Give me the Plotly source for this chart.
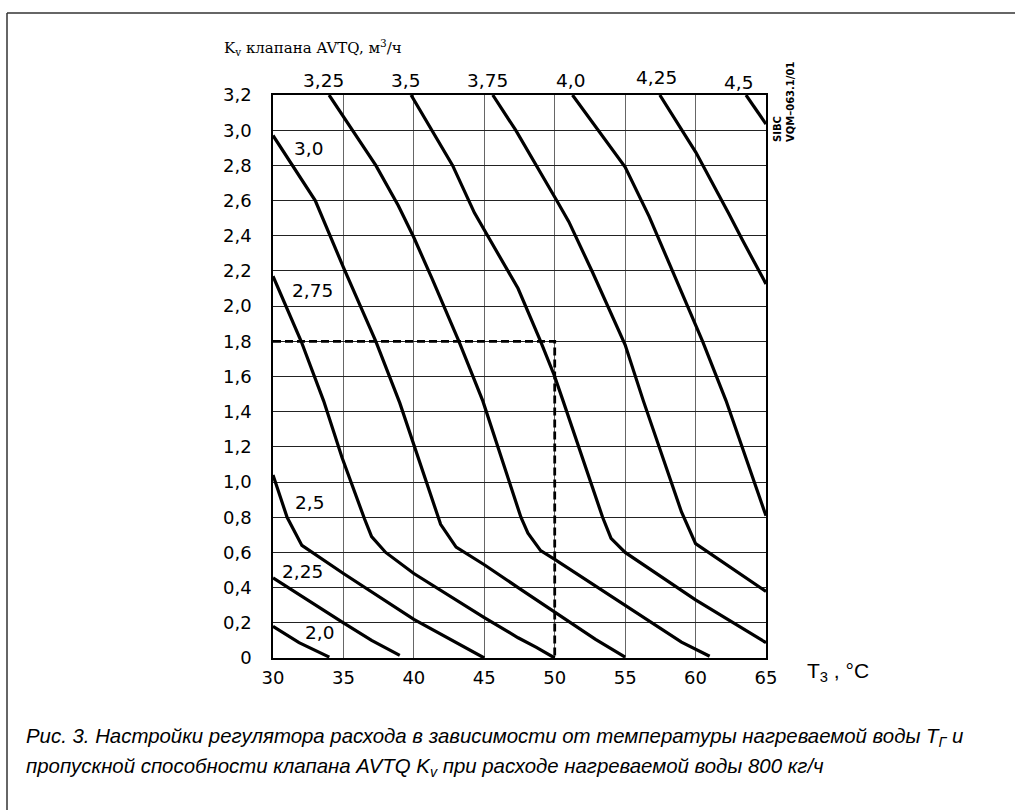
import plotly.graph_objects as go

# ---------------- data ----------------
curve_names = ["2,0", "2,25", "2,5", "2,75", "3,0", "3,25", "3,5", "3,75", "4,0", "4,25", "4,5"]

t_20 = [30, 31.85, 34]
kv_20 = [0.18, 0.087, 0.005]

t_225 = [30, 32.5, 35, 37, 39]
kv_225 = [0.455, 0.325, 0.20, 0.10, 0.015]

t_25 = [30, 31, 32.05, 35, 40, 42.5, 44, 45]
kv_25 = [1.04, 0.80, 0.64, 0.48, 0.22, 0.11, 0.04, 0.0]

t_275 = [30, 32, 33.6, 34.9, 36.5, 37, 38, 40, 45, 47.4, 48.7, 50]
kv_275 = [2.17, 1.80, 1.46, 1.14, 0.79, 0.69, 0.60, 0.48, 0.23, 0.115, 0.06, 0.0]

t_30 = [30, 33, 35, 37.3, 39, 40, 41.9, 43, 45, 47.4, 50, 52.9, 55]
kv_30 = [2.97, 2.60, 2.22, 1.80, 1.45, 1.21, 0.76, 0.63, 0.53, 0.40, 0.26, 0.106, 0.005]

t_325 = [33.98, 37.3, 38.9, 40, 41.3, 43.2, 44.9, 47.6, 48.1, 49, 50, 55, 59, 61]
kv_325 = [3.2, 2.80, 2.57, 2.39, 2.155, 1.80, 1.46, 0.80, 0.71, 0.61, 0.56, 0.30, 0.09, 0.01]

t_35 = [39.8, 42.75, 44.3, 47.4, 49, 50, 50.6, 53.4, 54, 55, 60, 65]
kv_35 = [3.2, 2.80, 2.53, 2.10, 1.80, 1.60, 1.46, 0.80, 0.68, 0.60, 0.33, 0.087]

t_375 = [45.6, 47.23, 50.07, 51.0, 52.7, 55, 56.3, 59, 60, 65]
kv_375 = [3.2, 3.0, 2.61, 2.48, 2.19, 1.78, 1.46, 0.83, 0.65, 0.378]

t_40 = [51.26, 55, 56.7, 60.5, 62.16, 65]
kv_40 = [3.2, 2.79, 2.51, 1.80, 1.463, 0.808]

t_425 = [57.46, 60.02, 62.4, 63.3, 65]
kv_425 = [3.2, 2.874, 2.52, 2.38, 2.126]

t_45 = [63.58, 65]
kv_45 = [3.2, 3.035]

curves_t = [t_20, t_225, t_25, t_275, t_30, t_325, t_35, t_375, t_40, t_425, t_45]
curves_kv = [kv_20, kv_225, kv_25, kv_275, kv_30, kv_325, kv_35, kv_375, kv_40, kv_425, kv_45]

# example reading (dashed)
example_t = [30, 50, 50]
example_kv = [1.8, 1.8, 0]

x_ticks = [30, 35, 40, 45, 50, 55, 60, 65]
x_ticktext = ["30", "35", "40", "45", "50", "55", "60", "65"]
y_ticks = [0, 0.2, 0.4, 0.6, 0.8, 1.0, 1.2, 1.4, 1.6, 1.8, 2.0, 2.2, 2.4, 2.6, 2.8, 3.0, 3.2]
y_ticktext = ["0", "0,2", "0,4", "0,6", "0,8", "1,0", "1,2", "1,4", "1,6", "1,8",
              "2,0", "2,2", "2,4", "2,6", "2,8", "3,0", "3,2"]

# ---------------- figure ----------------
W, H = 1015, 810
ML, MR, MT, MB = 273, 249, 95, 152
PW, PH = W - ML - MR, H - MT - MB


def px(xp):
    return (xp - ML) / PW


def py(yp):
    return (H - MB - yp) / PH


# curve-name label positions (pixels in the page)
label_px = {
    "2,0": (319, 632), "2,25": (302, 571), "2,5": (309, 502),
    "2,75": (312, 290), "3,0": (308, 148),
    "3,25": (323, 80), "3,5": (405, 80), "3,75": (487.5, 80),
    "4,0": (570, 80), "4,25": (656, 78), "4,5": (738, 82),
}

fig = go.Figure()
for name, tx, ky in zip(curve_names, curves_t, curves_kv):
    fig.add_trace(go.Scatter(x=tx, y=ky, mode="lines", name=name,
                             line=dict(color="black", width=3.2),
                             showlegend=False, hoverinfo="skip"))

fig.add_trace(go.Scatter(x=example_t, y=example_kv, mode="lines",
                         line=dict(color="black", width=2.8, dash="8px,4px"),
                         showlegend=False, hoverinfo="skip"))

tick_font = dict(family="DejaVu Sans", size=18, color="black")
label_font = dict(family="DejaVu Sans", size=18.5, color="black")

annotations = []
for name in curve_names:
    lx, ly = label_px[name]
    annotations.append(dict(x=px(lx), y=py(ly), xref="paper", yref="paper", text=name,
                            showarrow=False, font=label_font,
                            xanchor="center", yanchor="middle"))

annotations.append(dict(x=px(222), y=py(48), xref="paper", yref="paper",
                        text="K<sub>v</sub> клапана AVTQ, м<sup>3</sup>/ч",
                        showarrow=False, xanchor="left", yanchor="middle",
                        font=dict(family="DejaVu Serif", size=15, color="black")))

annotations.append(dict(x=px(805), y=py(672), xref="paper", yref="paper",
                        text="T<sub>3</sub> , °C", showarrow=False,
                        xanchor="left", yanchor="middle",
                        font=dict(family="Liberation Sans", size=21, color="black")))

annotations.append(dict(x=px(784), y=py(102), xref="paper", yref="paper",
                        text="<b>SIBC<br>VQM–063.1/01</b>", showarrow=False,
                        textangle=-90, align="left",
                        xanchor="center", yanchor="middle",
                        font=dict(family="DejaVu Sans", size=10, color="black")))

cap_font = dict(family="Liberation Sans", size=20.4, color="black")
annotations.append(dict(x=px(24), y=py(737), xref="paper", yref="paper",
                        text="<i>Рис. 3. Настройки регулятора расхода в зависимости от температуры нагреваемой воды T<sub>Г</sub> и</i>",
                        showarrow=False, xanchor="left", yanchor="middle", font=cap_font))
annotations.append(dict(x=px(24), y=py(767), xref="paper", yref="paper",
                        text="<i>пропускной способности клапана AVTQ K<sub>v</sub> при расходе нагреваемой воды 800 кг/ч</i>",
                        showarrow=False, xanchor="left", yanchor="middle", font=cap_font))

shapes = [
    dict(type="line", xref="paper", yref="paper", x0=px(7), x1=px(7), y0=py(13), y1=py(830),
         line=dict(color="#333", width=1.5)),
    dict(type="line", xref="paper", yref="paper", x0=px(7), x1=px(1030), y0=py(13), y1=py(13),
         line=dict(color="#333", width=1.5)),
]

fig.update_layout(
    width=W, height=H,
    margin=dict(l=ML, r=MR, t=MT, b=MB, pad=0),
    paper_bgcolor="white", plot_bgcolor="white",
    annotations=annotations, shapes=shapes,
    xaxis=dict(range=[30, 65], tickvals=x_ticks, ticktext=x_ticktext,
               showgrid=True, gridcolor="#666", gridwidth=1,
               showline=True, linecolor="black", linewidth=1.5, mirror=True,
               zeroline=False, ticks="", tickfont=tick_font, ticklabelstandoff=3,
               fixedrange=True),
    yaxis=dict(range=[0, 3.2], tickvals=y_ticks, ticktext=y_ticktext,
               showgrid=True, gridcolor="#222", gridwidth=1.3,
               showline=True, linecolor="black", linewidth=1.5, mirror=True,
               zeroline=False, ticks="", tickfont=tick_font, ticklabelstandoff=16,
               fixedrange=True),
)

fig.write_html("out.html", config={"displayModeBar": False},
               post_script="document.body.style.margin='0';")
